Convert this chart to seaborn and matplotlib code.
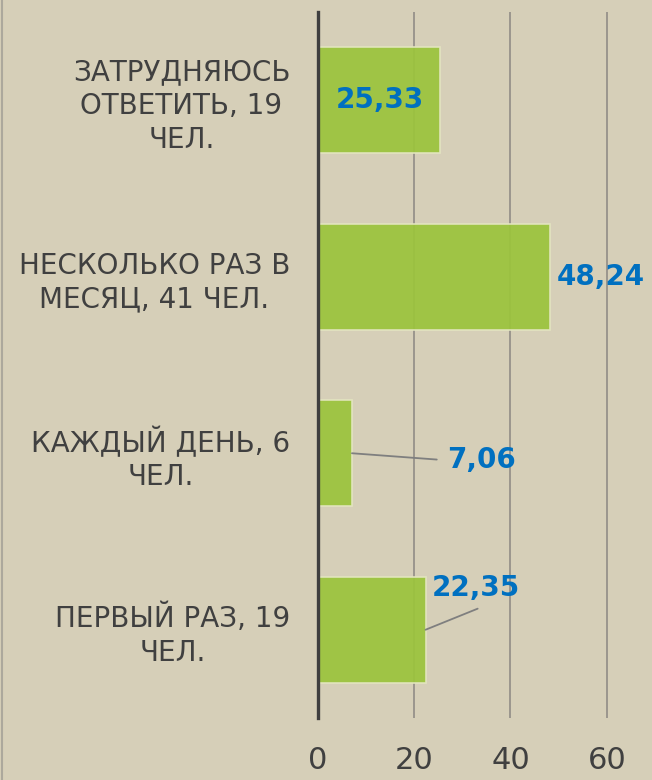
import pandas as pd
import seaborn as sns
import matplotlib.pyplot as plt
from matplotlib.lines import Line2D

categories = [
    "ЗАТРУДНЯЮСЬ\nОТВЕТИТЬ, 19\nЧЕЛ.",
    "НЕСКОЛЬКО РАЗ В\nМЕСЯЦ, 41 ЧЕЛ.",
    "КАЖДЫЙ ДЕНЬ, 6\nЧЕЛ.",
    "ПЕРВЫЙ РАЗ, 19\nЧЕЛ.",
]
values = [25.33, 48.24, 7.06, 22.35]
value_labels = ["25,33", "48,24", "7,06", "22,35"]
xticks = [0, 20, 40, 60]

bg = "#d6cfb8"
sns.set_theme(style="white")
plt.rcParams["font.family"] = ["DejaVu Sans"]

fig = plt.figure(figsize=(6.52, 7.8), dpi=100, facecolor=bg)
ax = fig.add_axes([0.4877, 0.0795, 0.5123, 0.9051])
ax.set_facecolor(bg)

df = pd.DataFrame({"cat": categories, "val": values})
sns.barplot(data=df, x="val", y="cat", orient="h", color="#9bc43c", width=0.6,
            edgecolor="#e4e6c0", linewidth=1.2, alpha=0.93, saturation=1, ax=ax)

ax.set_xlim(0, 69.4)
ax.set_ylim(3.5, -0.5)
ax.set_xticks(xticks)
ax.set_xlabel("")
ax.set_ylabel("")
ax.grid(axis="x", color="#96928a", linewidth=1.3)
ax.set_axisbelow(True)
for s in ["top", "right", "bottom"]:
    ax.spines[s].set_visible(False)
ax.spines["left"].set_color("#3f3f3f")
ax.spines["left"].set_linewidth(2.4)
ax.spines["left"].set_zorder(5)

ax.tick_params(axis="x", length=0, pad=20, labelsize=22, labelcolor="#404040")
ax.tick_params(axis="y", length=0, pad=20, labelsize=20, labelcolor="#404040")
for t in ax.get_yticklabels():
    t.set_multialignment("center")
    t.set_linespacing(1.25)

blue = "#0070c0"
lab = dict(color=blue, fontsize=20, fontweight="bold", va="center")
# label inside top bar
ax.text(12.9, 0, value_labels[0], ha="center", **lab)
# label right of second bar
ax.text(49.6, 1, value_labels[1], ha="left", **lab)
# labels with leader lines
ax.annotate(value_labels[2], xy=(values[2], 2.0), xytext=(26.8, 2.04), ha="left",
            arrowprops=dict(arrowstyle="-", color="#7f7f7f", lw=1.3,
                            relpos=(0, 0.5), shrinkA=5, shrinkB=0), **lab)
ax.annotate(value_labels[3], xy=(values[3], 3.0), xytext=(32.8, 2.765), ha="center",
            arrowprops=dict(arrowstyle="-", color="#7f7f7f", lw=1.3,
                            relpos=(0.7, 0), shrinkA=6, shrinkB=0), **lab)

fig.add_artist(Line2D([0.003, 0.003], [0, 1], color="#aca89c", lw=1.5,
                      transform=fig.transFigure))

fig.savefig("out.png", dpi=100, facecolor=bg)
